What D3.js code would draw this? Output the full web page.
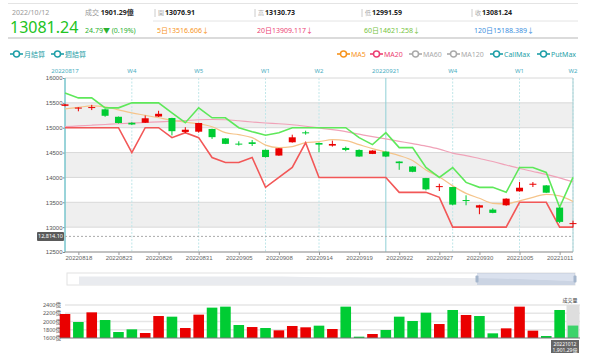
<!DOCTYPE html>
<html>
<head>
<meta charset="utf-8">
<script src="https://cdn.jsdelivr.net/npm/d3@7"></script>
<style>
body{margin:0;background:#fff;}
svg{display:block;font-family:"Noto Sans","Noto Sans CJK TC",sans-serif;}
</style>
</head>
<body>
<div class="main"></div>
<script>
//trading days shown in the window
const dates = ['20220817','20220818','20220819','20220822','20220823','20220824','20220825','20220826','20220829','20220830','20220831',
	'20220901','20220902','20220905','20220906','20220907','20220908','20220912','20220913','20220914','20220915','20220916',
	'20220919','20220920','20220921','20220922','20220923','20220926','20220927','20220928','20220929','20220930',
	'20221003','20221004','20221005','20221006','20221007','20221011','20221012'];

const opens  = [15440,15395,15395,15370,15220,15100,15100,15225,15195,14915,14920,14975,14785,14680,14707,14555,14440,14707,14907,14693,14640,14593,14553,14473,14520,14320,14220,13987,13815,13807,13545,13393,13353,13440,13720,13865,13840,13393,13076.91];
const closes = [15470,15405,15415,15240,15095,15065,15190,15280,14930,14960,15095,14810,14675,14660,14673,14410,14587,14807,14887,14660,14673,14553,14420,14540,14420,14287,14113,13760,13825,13453,13540,13440,13287,13573,13793,13873,13693,13106,13081.24];
const highs  = [15480,15410,15460,15380,15225,15110,15245,15340,15200,15010,15100,14980,14790,14727,14753,14560,14590,14860,14940,14700,14740,14620,14565,14545,14525,14325,14225,13990,13873,13810,13640,13450,13380,13580,13907,13907,13845,13400,13130.73];
const lows   = [15430,15330,15355,15220,15085,15055,15095,15215,14845,14890,14900,14775,14670,14640,14633,14400,14435,14700,14860,14507,14620,14527,14415,14470,14410,14153,14105,13740,13727,13440,13440,13260,13280,13430,13715,13807,13690,13080,12991.59];

const callMax = [15700,15600,15600,15400,15400,15500,15500,15500,15300,15100,15400,15200,15200,15000,14920,14850,14900,15000,15000,15000,15000,15000,14800,14660,14900,14600,14600,14200,14000,14200,13900,13800,13800,13700,14200,14200,14100,13400,14000];
const putMax  = [15000,15000,15000,15000,15000,14500,15000,15000,14800,14900,14800,14400,14300,14300,14400,13800,14000,14200,14700,14000,14000,14000,14000,14000,14000,13700,13700,13700,13600,13000,13000,13000,13000,13000,13500,13500,13500,13000,13000];

const ma5  = [15380,15410,15440,15420,15360,15300,15250,15200,15150,15110,15080,15020,14900,14860,14800,14650,14600,14620,14700,14720,14760,14740,14660,14580,14510,14440,14340,14150,14010,13830,13680,13580,13480,13470,13530,13600,13660,13630,13516.606];
const ma20 = [15020,15035,15050,15065,15080,15093,15105,15118,15130,15145,15160,15165,15160,15140,15115,15095,15080,15060,15030,14995,14960,14920,14870,14820,14775,14727,14680,14630,14570,14490,14440,14380,14320,14250,14180,14120,14060,13990,13909.117];

//成交量 (億)
const volumes = [2182,1988,2222,2036,1745,1810,1721,2133,2117,1842,2166,2336,2360,1915,1866,1842,1786,1891,1859,1899,1818,2360,1632,1697,1794,2117,2012,2214,1939,2279,2158,2133,1713,1834,2360,1778,1648,2279,1901.29];

const priceTicks = [12500,13000,13500,14000,14500,15000,15500,16000];
const volTicks = [1600,1800,2000,2200,2400];
const bottomLabels = ['20220818','20220823','20220826','20220831','20220905','20220908','20220914','20220919','20220922','20220927','20220930','20221005','20221011'];

//settlement days (monthly / weekly)
const settleDates  = ['20220817','20220824','20220831','20220907','20220914','20220921','20220928','20221005','20221012'];
const settleLabels = ['20220817','W4','W5','W1','W2','20220921','W4','W1','W2'];

//slider overview, rough close levels read off the shadow
const overview = [15900,15850,15950,15800,15900,15700,15600,15450,15300,15100,14600,13700];

const UP = '#ea0000';
const DOWN = '#00cc33';
const TEAL = '#1f9fa8';

const svg = d3.select('.main')
	.append('svg')
	.attr('width',600)
	.attr('height',361);

// ---------- header ----------
const head = svg.append('g');
head.append('line').attr('x1',8).attr('x2',578).attr('y1',3.5).attr('y2',3.5).style('stroke','#e4e4e4');
head.append('line').attr('x1',8).attr('x2',578).attr('y1',38).attr('y2',38).style('stroke','#cfcfcf').style('stroke-width','1.5px');
head.append('line').attr('x1',153).attr('x2',578).attr('y1',21).attr('y2',21).style('stroke','#e4e4e4');

head.append('text').attr('x',12).attr('y',15).text('2022/10/12')
	.style('font-size','7px').style('fill','#999');
head.append('text').attr('x',10).attr('y',32.5).text('13081.24')
	.style('font-size','16px').style('fill','#22c322');
head.append('text').attr('x',85).attr('y',15)
	.style('font-size','7px')
	.call(t=>{
		t.append('tspan').text('成交 ').style('fill','#999');
		t.append('tspan').text('1901.29億').style('fill','#222').style('font-weight','bold');
	});
head.append('text').attr('x',85).attr('y',32.5).text('24.79▼ (0.19%)')
	.style('font-size','7px').style('fill','#29b12f');

const cols = [
	{x:155, k:'開', v:'13076.91', m:'5日13516.606↓', c:'#f7941d'},
	{x:255, k:'高', v:'13130.73', m:'20日13909.117↓', c:'#ec3f73'},
	{x:362, k:'低', v:'12991.59', m:'60日14621.258↓', c:'#76c442'},
	{x:472, k:'收', v:'13081.24', m:'120日15188.389↓', c:'#3b8fe0'}
];
cols.forEach(function(d){
	head.append('line').attr('x1',d.x).attr('x2',d.x).attr('y1',9).attr('y2',17).style('stroke','#ccc');
	head.append('text').attr('x',d.x+3).attr('y',15).text(d.k).style('font-size','6px').style('fill','#aaa');
	head.append('text').attr('x',d.x+10).attr('y',15).text(d.v)
		.style('font-size','7px').style('font-weight','bold').style('fill','#222');
	head.append('text').attr('x',d.x+2).attr('y',32.5).text(d.m)
		.style('font-size','7px').style('fill',d.c);
});

// ---------- legends ----------
function legendItem(x, color, label, textColor){
	const g = svg.append('g').attr('transform','translate(' + x + ',54)');
	g.append('line').attr('x1',0).attr('x2',13).attr('y1',0).attr('y2',0)
		.style('stroke',color).style('stroke-width','1.6px');
	g.append('circle').attr('cx',6.5).attr('cy',0).attr('r',3)
		.style('fill','#fff').style('stroke',color).style('stroke-width','1.5px');
	g.append('text').attr('x',14).attr('y',2.5).text(label)
		.style('font-size','7px').style('fill',textColor || color);
}
legendItem(10, TEAL, '月結算');
legendItem(51, TEAL, '週結算');
legendItem(337, '#f7941d', 'MA5');
legendItem(370, '#ec3f73', 'MA20');
legendItem(409, '#aaa', 'MA60');
legendItem(447, '#aaa', 'MA120');
legendItem(490, TEAL, 'CallMax');
legendItem(537, TEAL, 'PutMax');

// ---------- main chart ----------
const x = d3.scalePoint().domain(dates).range([65,573]);
const y = d3.scaleLinear().domain([12500,16000]).range([252,78]);

const plot = svg.append('g');

//alternating bands
plot.selectAll('.band')
	.data(priceTicks.slice(0,-1).filter((d,i)=>i%2===1))
	.enter()
	.append('rect')
	.attr('x',65)
	.attr('width',508)
	.attr('y',d=>y(d+500))
	.attr('height',d=>y(d)-y(d+500))
	.style('fill','#efefef');

const yAxis = plot.append('g')
	.attr('transform','translate(65,0)')
	.call(d3.axisLeft(y).tickValues(priceTicks).tickSize(2).tickFormat(d3.format('d')));
yAxis.select('.domain').remove();
yAxis.selectAll('text').style('font-size','6px').style('fill','#555').attr('x',-2.5);
yAxis.selectAll('line').style('stroke','#888');

plot.selectAll('.grid')
	.data(priceTicks)
	.enter()
	.append('line')
	.attr('x1',65).attr('x2',573)
	.attr('y1',d=>y(d)).attr('y2',d=>y(d))
	.style('stroke','#d8d8d8');

//settlement lines
plot.selectAll('.settle')
	.data(settleDates)
	.enter()
	.append('line')
	.attr('x1',d=>x(d)).attr('x2',d=>x(d))
	.attr('y1',78).attr('y2',252)
	.style('stroke',(d,i)=>settleLabels[i].length > 2 ? '#8fd0d6' : '#bfe6e9')
	.style('stroke-dasharray',(d,i)=>settleLabels[i].length > 2 ? null : '2,1.5');

plot.selectAll('.settleLabel')
	.data(settleDates)
	.enter()
	.append('text')
	.attr('x',d=>x(d))
	.attr('y',73)
	.attr('text-anchor','middle')
	.text((d,i)=>settleLabels[i])
	.style('font-size','6px')
	.style('fill','#4aaebf');

plot.append('line').attr('x1',573).attr('x2',573).attr('y1',78).attr('y2',252).style('stroke','#a9cfd3');
plot.append('line').attr('x1',65).attr('x2',65).attr('y1',78).attr('y2',252).style('stroke','#6cc0c8');

//x axis
const xAxis = plot.append('g')
	.attr('transform','translate(0,252)')
	.call(d3.axisBottom(x).tickValues(bottomLabels).tickSize(3).tickPadding(1));
xAxis.select('.domain').attr('d','M65,0H573').style('stroke','#999');
xAxis.selectAll('text').style('font-size','6px').style('fill','#666');
xAxis.selectAll('line').style('stroke','#999');

//moving averages
const maLine = vals => d3.line()
	.x((d,i)=>x(dates[i]))
	.y(d=>y(d))
	.curve(d3.curveMonotoneX)(vals);

plot.append('path').attr('d',maLine(ma20))
	.style('fill','none').style('stroke','#f0a2b8').style('stroke-width','1.2px');
plot.append('path').attr('d',maLine(ma5))
	.style('fill','none').style('stroke','#f5c48a').style('stroke-width','1.2px');

//call / put max
const stepLine = d3.line().x((d,i)=>x(dates[i])).y(d=>y(d));
plot.append('path').attr('d',stepLine(callMax))
	.style('fill','none').style('stroke','#5ee85a').style('stroke-width','1.6px');
plot.append('path').attr('d',stepLine(putMax))
	.style('fill','none').style('stroke','#f25757').style('stroke-width','1.6px');

//candles
const candles = plot.selectAll('.candle')
	.data(dates)
	.enter()
	.append('g');

candles.append('line')
	.attr('x1',d=>x(d)).attr('x2',d=>x(d))
	.attr('y1',(d,i)=>y(highs[i]))
	.attr('y2',(d,i)=>y(lows[i]))
	.style('stroke',(d,i)=>closes[i] >= opens[i] ? UP : DOWN);

candles.append('rect')
	.attr('x',d=>x(d)-3.5)
	.attr('width',7)
	.attr('y',(d,i)=>y(Math.max(opens[i],closes[i])))
	.attr('height',(d,i)=>Math.max(1,Math.abs(y(opens[i])-y(closes[i]))))
	.style('fill',(d,i)=>closes[i] >= opens[i] ? UP : DOWN);

//axis pointer
const pointerValue = 12814.10;
plot.append('line')
	.attr('x1',65).attr('x2',573)
	.attr('y1',y(pointerValue)).attr('y2',y(pointerValue))
	.style('stroke','#aaa').style('stroke-dasharray','2,2');
plot.append('rect')
	.attr('x',37).attr('y',y(pointerValue)-4.5)
	.attr('width',27).attr('height',9).attr('rx',1)
	.style('fill','#5a5a5a');
plot.append('text')
	.attr('x',50.5).attr('y',y(pointerValue)+2)
	.attr('text-anchor','middle')
	.text(d3.format(',.2f')(pointerValue))
	.style('font-size','5.5px').style('fill','#fff');

// ---------- slider ----------
const sx = d3.scaleLinear().domain([0,overview.length-1]).range([79,575]);
const sy = d3.scaleLinear().domain([12000,17500]).range([285,273]);
svg.append('rect').attr('x',67).attr('y',273).attr('width',508).attr('height',12)
	.style('fill','#fff').style('stroke','#e2e2e2');
svg.append('path')
	.attr('d',d3.area().x((d,i)=>sx(i)).y0(285).y1(d=>sy(d)).curve(d3.curveBasis)(overview))
	.style('fill','#e9ebef');
svg.append('rect').attr('x',477).attr('y',273).attr('width',98).attr('height',12)
	.style('fill','rgba(150,170,205,0.35)');
[477,575].forEach(function(hx){
	svg.append('rect').attr('x',hx-1.5).attr('y',275.5).attr('width',3).attr('height',7).attr('rx',1)
		.style('fill','#a5b6cc');
});

// ---------- volume ----------
const yVol = d3.scaleLinear().domain([1600,2400]).range([338,305]);
const vol = svg.append('g');

vol.selectAll('.vgrid')
	.data(volTicks.slice(1))
	.enter()
	.append('line')
	.attr('x1',65).attr('x2',580)
	.attr('y1',d=>yVol(d)).attr('y2',d=>yVol(d))
	.style('stroke','#e6e6e6').style('stroke-width','1.5px');

vol.selectAll('.vlabel')
	.data(volTicks)
	.enter()
	.append('text')
	.attr('x',61)
	.attr('y',d=>yVol(d)+2)
	.attr('text-anchor','end')
	.text(d=>d + '億')
	.style('font-size','5.5px')
	.style('fill','#555');

//highlighted last day
const last = dates[dates.length-1];
vol.append('rect')
	.attr('x',x(last)-6.5).attr('width',13)
	.attr('y',305).attr('height',33)
	.style('fill','#dedede');
vol.append('text').attr('x',x(last)-3).attr('y',302).attr('text-anchor','middle')
	.text('成交量').style('font-size','5px').style('fill','#333');

vol.selectAll('.bar')
	.data(volumes)
	.enter()
	.append('rect')
	.attr('x',(d,i)=>x(dates[i])-5.3)
	.attr('width',10.6)
	.attr('y',d=>yVol(d))
	.attr('height',d=>338-yVol(d))
	.style('fill',function(d,i){
		const prev = i === 0 ? opens[0] : closes[i-1];
		const c = closes[i] >= prev ? UP : DOWN;
		return i === volumes.length-1 ? '#3dd36a' : c;
	});

vol.append('line').attr('x1',60).attr('x2',580).attr('y1',338).attr('y2',338)
	.style('stroke','#777').style('stroke-width','1px');

//tooltip box
vol.append('rect').attr('x',551).attr('y',340).attr('width',28).attr('height',13)
	.style('fill','#666');
vol.append('text').attr('x',565).attr('y',345.5).attr('text-anchor','middle')
	.text(last).style('font-size','5px').style('fill','#fff');
vol.append('text').attr('x',565).attr('y',351.5).attr('text-anchor','middle')
	.text(d3.format(',.2f')(volumes[volumes.length-1]) + '億').style('font-size','5px').style('fill','#fff');
</script>
</body>
</html>
